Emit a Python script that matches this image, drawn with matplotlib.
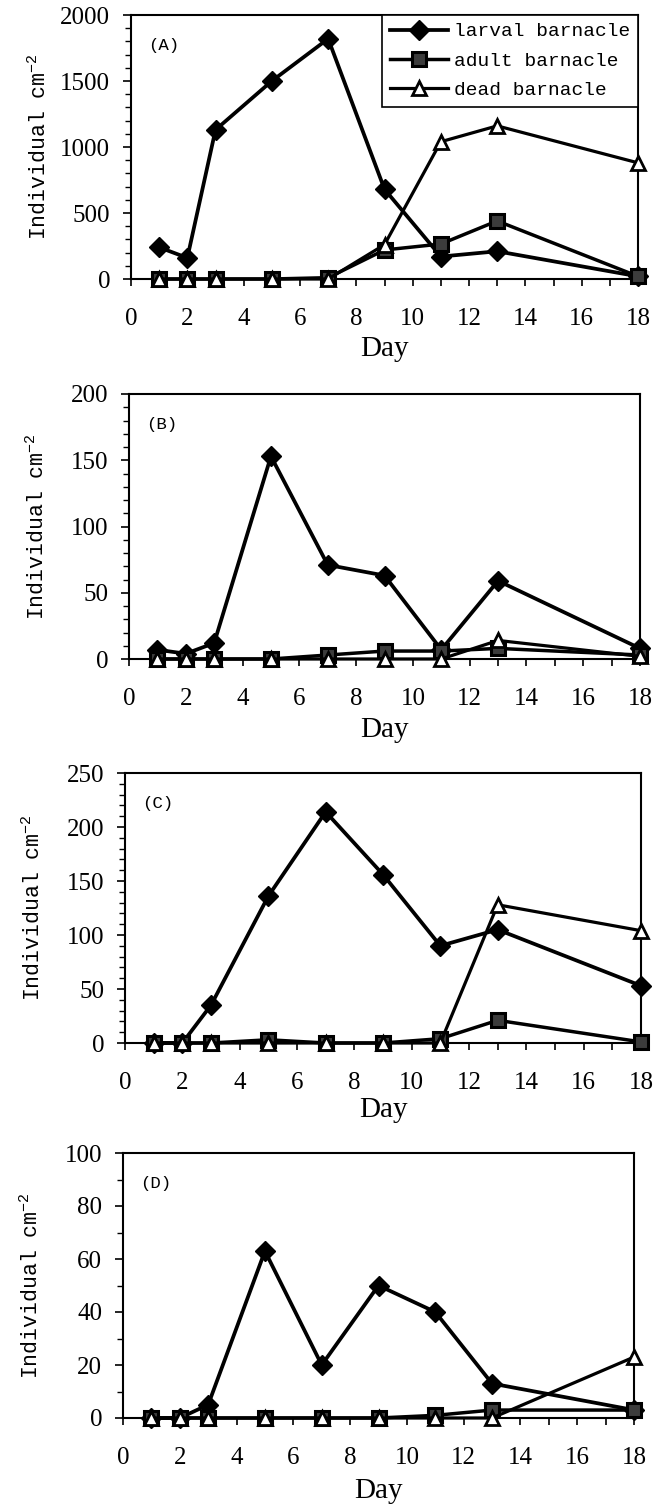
import matplotlib
matplotlib.use("Agg")
import matplotlib.pyplot as plt
from matplotlib.ticker import MultipleLocator

# ---------------- data ----------------
days = [1, 2, 3, 5, 7, 9, 11, 13, 18]

larval_A = [240, 160, 1130, 1500, 1820, 680, 170, 210, 20]
adult_A = [0, 0, 0, 0, 10, 220, 265, 440, 20]
dead_A = [0, 0, 0, 0, 0, 260, 1040, 1160, 880]

larval_B = [7, 4, 12, 153, 71, 63, 7, 59, 8]
adult_B = [0, 0, 0, 0, 3, 6, 6, 8, 3]
dead_B = [0, 0, 0, 0, 0, 0, 0, 14, 2]

larval_C = [0, 0, 35, 136, 214, 156, 90, 105, 53]
adult_C = [0, 0, 0, 3, 0, 0, 4, 21, 1]
dead_C = [0, 0, 0, 0, 0, 0, 0, 128, 104]

larval_D = [0, 0, 5, 63, 20, 50, 40, 13, 3]
adult_D = [0, 0, 0, 0, 0, 0, 1, 3, 3]
dead_D = [0, 0, 0, 0, 0, 0, 0, 0, 23]

panel_labels = ["(A)", "(B)", "(C)", "(D)"]
series_names = ["larval barnacle", "adult barnacle", "dead barnacle"]
ymax = [2000, 200, 250, 100]
ymajor = [500, 50, 50, 20]
yminor = [100, 10, 10, 10]
xticks = list(range(0, 19, 2))

plt.rcParams['mathtext.default'] = 'regular'

W, H = 669, 1505
fig = plt.figure(figsize=(W / 100, H / 100), dpi=100)

# pixel boxes: left, right, top, bottom
boxes = [(131, 638, 15, 279), (129, 640, 394, 659), (125, 641, 773, 1043), (123, 634, 1153, 1418)]
data = [(larval_A, adult_A, dead_A), (larval_B, adult_B, dead_B),
        (larval_C, adult_C, dead_C), (larval_D, adult_D, dead_D)]
xlabel_pads = [4, 5, 2, 6]

serif = "Liberation Serif"
mono = "Liberation Mono"

for i, ((l, r, t, b), (lar, adu, dea)) in enumerate(zip(boxes, data)):
    ax = fig.add_axes([l / W, 1 - b / H, (r - l) / W, (b - t) / H])
    h1, = ax.plot(days, lar, color='black', lw=2.7, marker='D', ms=10.5,
                  mfc='black', mec='black', label=series_names[0], zorder=3, clip_on=False)
    h2, = ax.plot(days, adu, color='black', lw=2.5, marker='s', ms=10.5,
                  mfc='#3c3c3c', mec='black', mew=2.2, label=series_names[1], zorder=4, clip_on=False)
    h3, = ax.plot(days, dea, color='black', lw=2.3, marker='^', ms=10,
                  mfc='white', mec='black', mew=2.0, label=series_names[2], zorder=5, clip_on=False)
    ax.set_xlim(0, 18)
    ax.set_ylim(0, ymax[i])
    ax.set_xticks(xticks)
    ax.xaxis.set_minor_locator(MultipleLocator(1))
    ax.yaxis.set_major_locator(MultipleLocator(ymajor[i]))
    ax.yaxis.set_minor_locator(MultipleLocator(yminor[i]))
    ax.tick_params(axis='both', which='both', direction='out', color='black')
    ax.tick_params(axis='x', which='both', length=5, width=1.2, pad=16)
    ax.tick_params(axis='y', which='major', length=6, width=1.2, pad=9)
    ax.tick_params(axis='y', which='minor', length=4.5, width=1.0)
    for lab in ax.get_xticklabels() + ax.get_yticklabels():
        lab.set_fontfamily(serif)
        lab.set_fontsize(18)
    for sp in ax.spines.values():
        sp.set_linewidth(1.5)
        sp.set_color('black')
    ax.set_xlabel("Day", fontfamily=serif, fontsize=21, labelpad=xlabel_pads[i])
    ax.set_ylabel("Individual cm$^{-2}$", fontfamily=mono, fontsize=15.5)
    ax.yaxis.set_label_coords(-80 / (r - l), 0.5)
    ax.yaxis.label.set_verticalalignment('bottom')
    ax.annotate(panel_labels[i], xy=(0, 1), xycoords='axes fraction',
                xytext=(12, -22), textcoords='offset points',
                ha='left', va='center', fontfamily=mono, fontsize=12.5)
    if i == 0:
        leg = ax.legend(handles=[h1, h2, h3], loc='upper right', borderaxespad=0,
                        prop={'family': mono, 'size': 14}, frameon=True, fancybox=False,
                        framealpha=1, edgecolor='black', handlelength=3.0,
                        handletextpad=0.3, labelspacing=0.6, borderpad=0.4)
        leg.get_frame().set_linewidth(1.2)

fig.savefig("out.png", dpi=100)
